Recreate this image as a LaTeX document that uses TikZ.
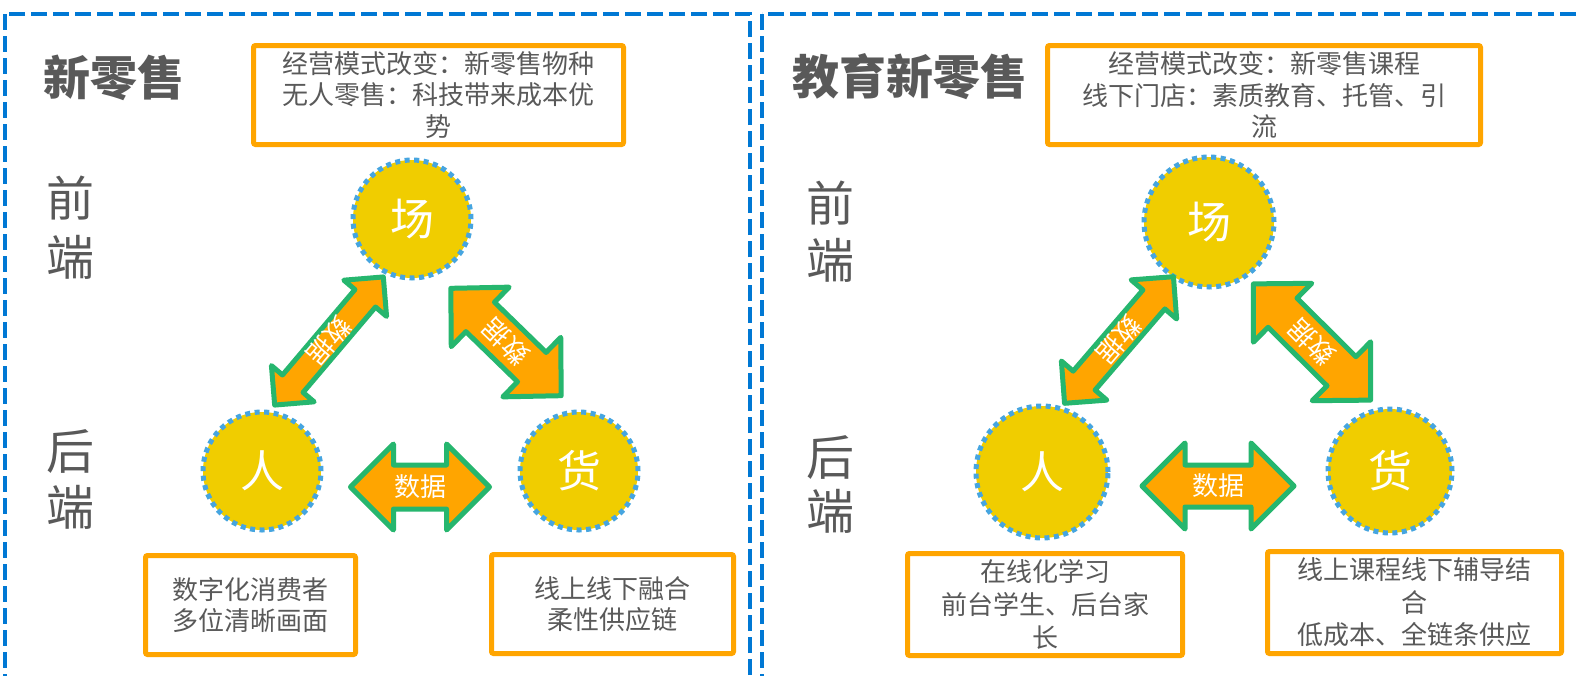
\documentclass[tikz,border=0pt]{standalone}
\usepackage{fontspec}
\setmainfont{Noto Sans CJK SC}
\definecolor{panelblue}{RGB}{0,120,212}
\definecolor{boxorange}{RGB}{255,165,0}
\definecolor{hubgold}{RGB}{240,205,0}
\definecolor{dotblue}{RGB}{70,165,224}
\definecolor{arroworange}{RGB}{255,165,0}
\definecolor{arrowgreen}{RGB}{38,182,110}
\definecolor{textgray}{RGB}{89,89,89}
\tikzset{
  panel/.style={draw=panelblue, line width=4.5pt, dash pattern=on 16pt off 6pt},
  infobox/.style={draw=boxorange, line width=5pt, rounded corners=2pt, fill=white,
    text=textgray, align=center, inner sep=0pt, font=\fontsize{26}{31.5}\selectfont},
  hub/.style={circle, fill=hubgold, draw=dotblue, line width=5pt, dash pattern=on 5pt off 4.5pt,
    text=white, inner sep=0pt, font=\fontsize{44}{50}\selectfont},
  sidelabel/.style={text=textgray, align=center, inner sep=0pt},
  titletext/.style={text=textgray, inner sep=0pt, font=\bfseries\fontsize{47}{56}\selectfont},
  blockarrow/.style={fill=arroworange, draw=arrowgreen, line width=5pt, line join=round},
  arrowtext/.style={text=white, inner sep=0pt, font=\fontsize{26}{28}\selectfont},
}
% name, cx, cy, angle, length, shaft width, head width, head length, text angle
\newcommand{\dblarrow}[9]{%
  \begin{scope}[shift={(#2,#3)}, rotate=#4]
    \filldraw[blockarrow] (-#5/2,0) -- (-#5/2+#8,#7/2) -- (-#5/2+#8,#6/2) -- (#5/2-#8,#6/2)
      -- (#5/2-#8,#7/2) -- (#5/2,0) -- (#5/2-#8,-#7/2) -- (#5/2-#8,-#6/2)
      -- (-#5/2+#8,-#6/2) -- (-#5/2+#8,-#7/2) -- cycle;
  \end{scope}
  \node[arrowtext, rotate=#9] (#1) at (#2,#3) {数据};
}
\begin{document}
\begin{tikzpicture}[x=1pt, y=-1pt]
\useasboundingbox (0,0) rectangle (1577,675);
\clip (0,0) rectangle (1577,675);
\fill[white] (0,0) rectangle (1577,675);

% panels
\draw[panel] (5,14) rectangle (750,720);
\draw[panel] (762,14) rectangle (1640,720);

% ---------- left panel ----------
\node[titletext] (t1) at (114,78) {新零售};
\node[infobox, minimum width=370pt, minimum height=99pt] (b1) at (438.5,95)
  {经营模式改变：新零售物种\\无人零售：科技带来成本优\\势};
\node[sidelabel, font=\fontsize{48}{59}\selectfont] (f1) at (70,228) {前\\端};
\node[sidelabel, font=\fontsize{48}{56}\selectfont] (h1) at (70,479) {后\\端};

\node[hub, minimum size=118pt] (c1) at (412,219) {场};
\node[hub, minimum size=118pt] (p1) at (262,471) {人};
\node[hub, minimum size=118pt] (g1) at (579,471) {货};

\dblarrow{a1}{329}{341}{49.7}{168}{27}{56}{28}{229.7}
\dblarrow{a2}{506}{342}{-44.2}{154}{41}{83}{41}{135.8}
\dblarrow{a3}{420}{487}{0}{139}{44}{86}{43}{0}

\node[infobox, minimum width=210pt, minimum height=99pt] (d1) at (250.5,605)
  {数字化消费者\\多位清晰画面};
\node[infobox, minimum width=242pt, minimum height=99pt] (e1) at (612.5,604)
  {线上线下融合\\柔性供应链};

% ---------- right panel ----------
\node[titletext] (t2) at (910,77) {教育新零售};
\node[infobox, minimum width=433pt, minimum height=99pt] (b2) at (1264,95)
  {经营模式改变：新零售课程\\线下门店：素质教育、托管、引\\流};
\node[sidelabel, font=\fontsize{48}{57}\selectfont] (f2) at (830,232) {前\\端};
\node[sidelabel, font=\fontsize{48}{54}\selectfont] (h2) at (830,484) {后\\端};

\node[hub, minimum size=130pt] (c2) at (1209,222) {场};
\node[hub, minimum size=132pt] (p2) at (1042,472) {人};
\node[hub, minimum size=124pt] (g2) at (1390,471) {货};

\dblarrow{a4}{1119}{340}{49.3}{167}{29}{60}{30}{229.3}
\dblarrow{a5}{1312}{342}{-44.8}{165}{41}{83}{41}{135.2}
\dblarrow{a6}{1218}{486}{0}{152}{42}{86}{43}{0}

\node[infobox, minimum width=275pt, minimum height=102pt,
  font=\fontsize{26}{33}\selectfont] (d2) at (1045,604.5)
  {在线化学习\\前台学生、后台家\\长};
\node[infobox, minimum width=294pt, minimum height=102pt,
  font=\fontsize{26}{32.5}\selectfont] (e2) at (1414.5,602.5)
  {线上课程线下辅导结\\合\\低成本、全链条供应};
\end{tikzpicture}
\end{document}
